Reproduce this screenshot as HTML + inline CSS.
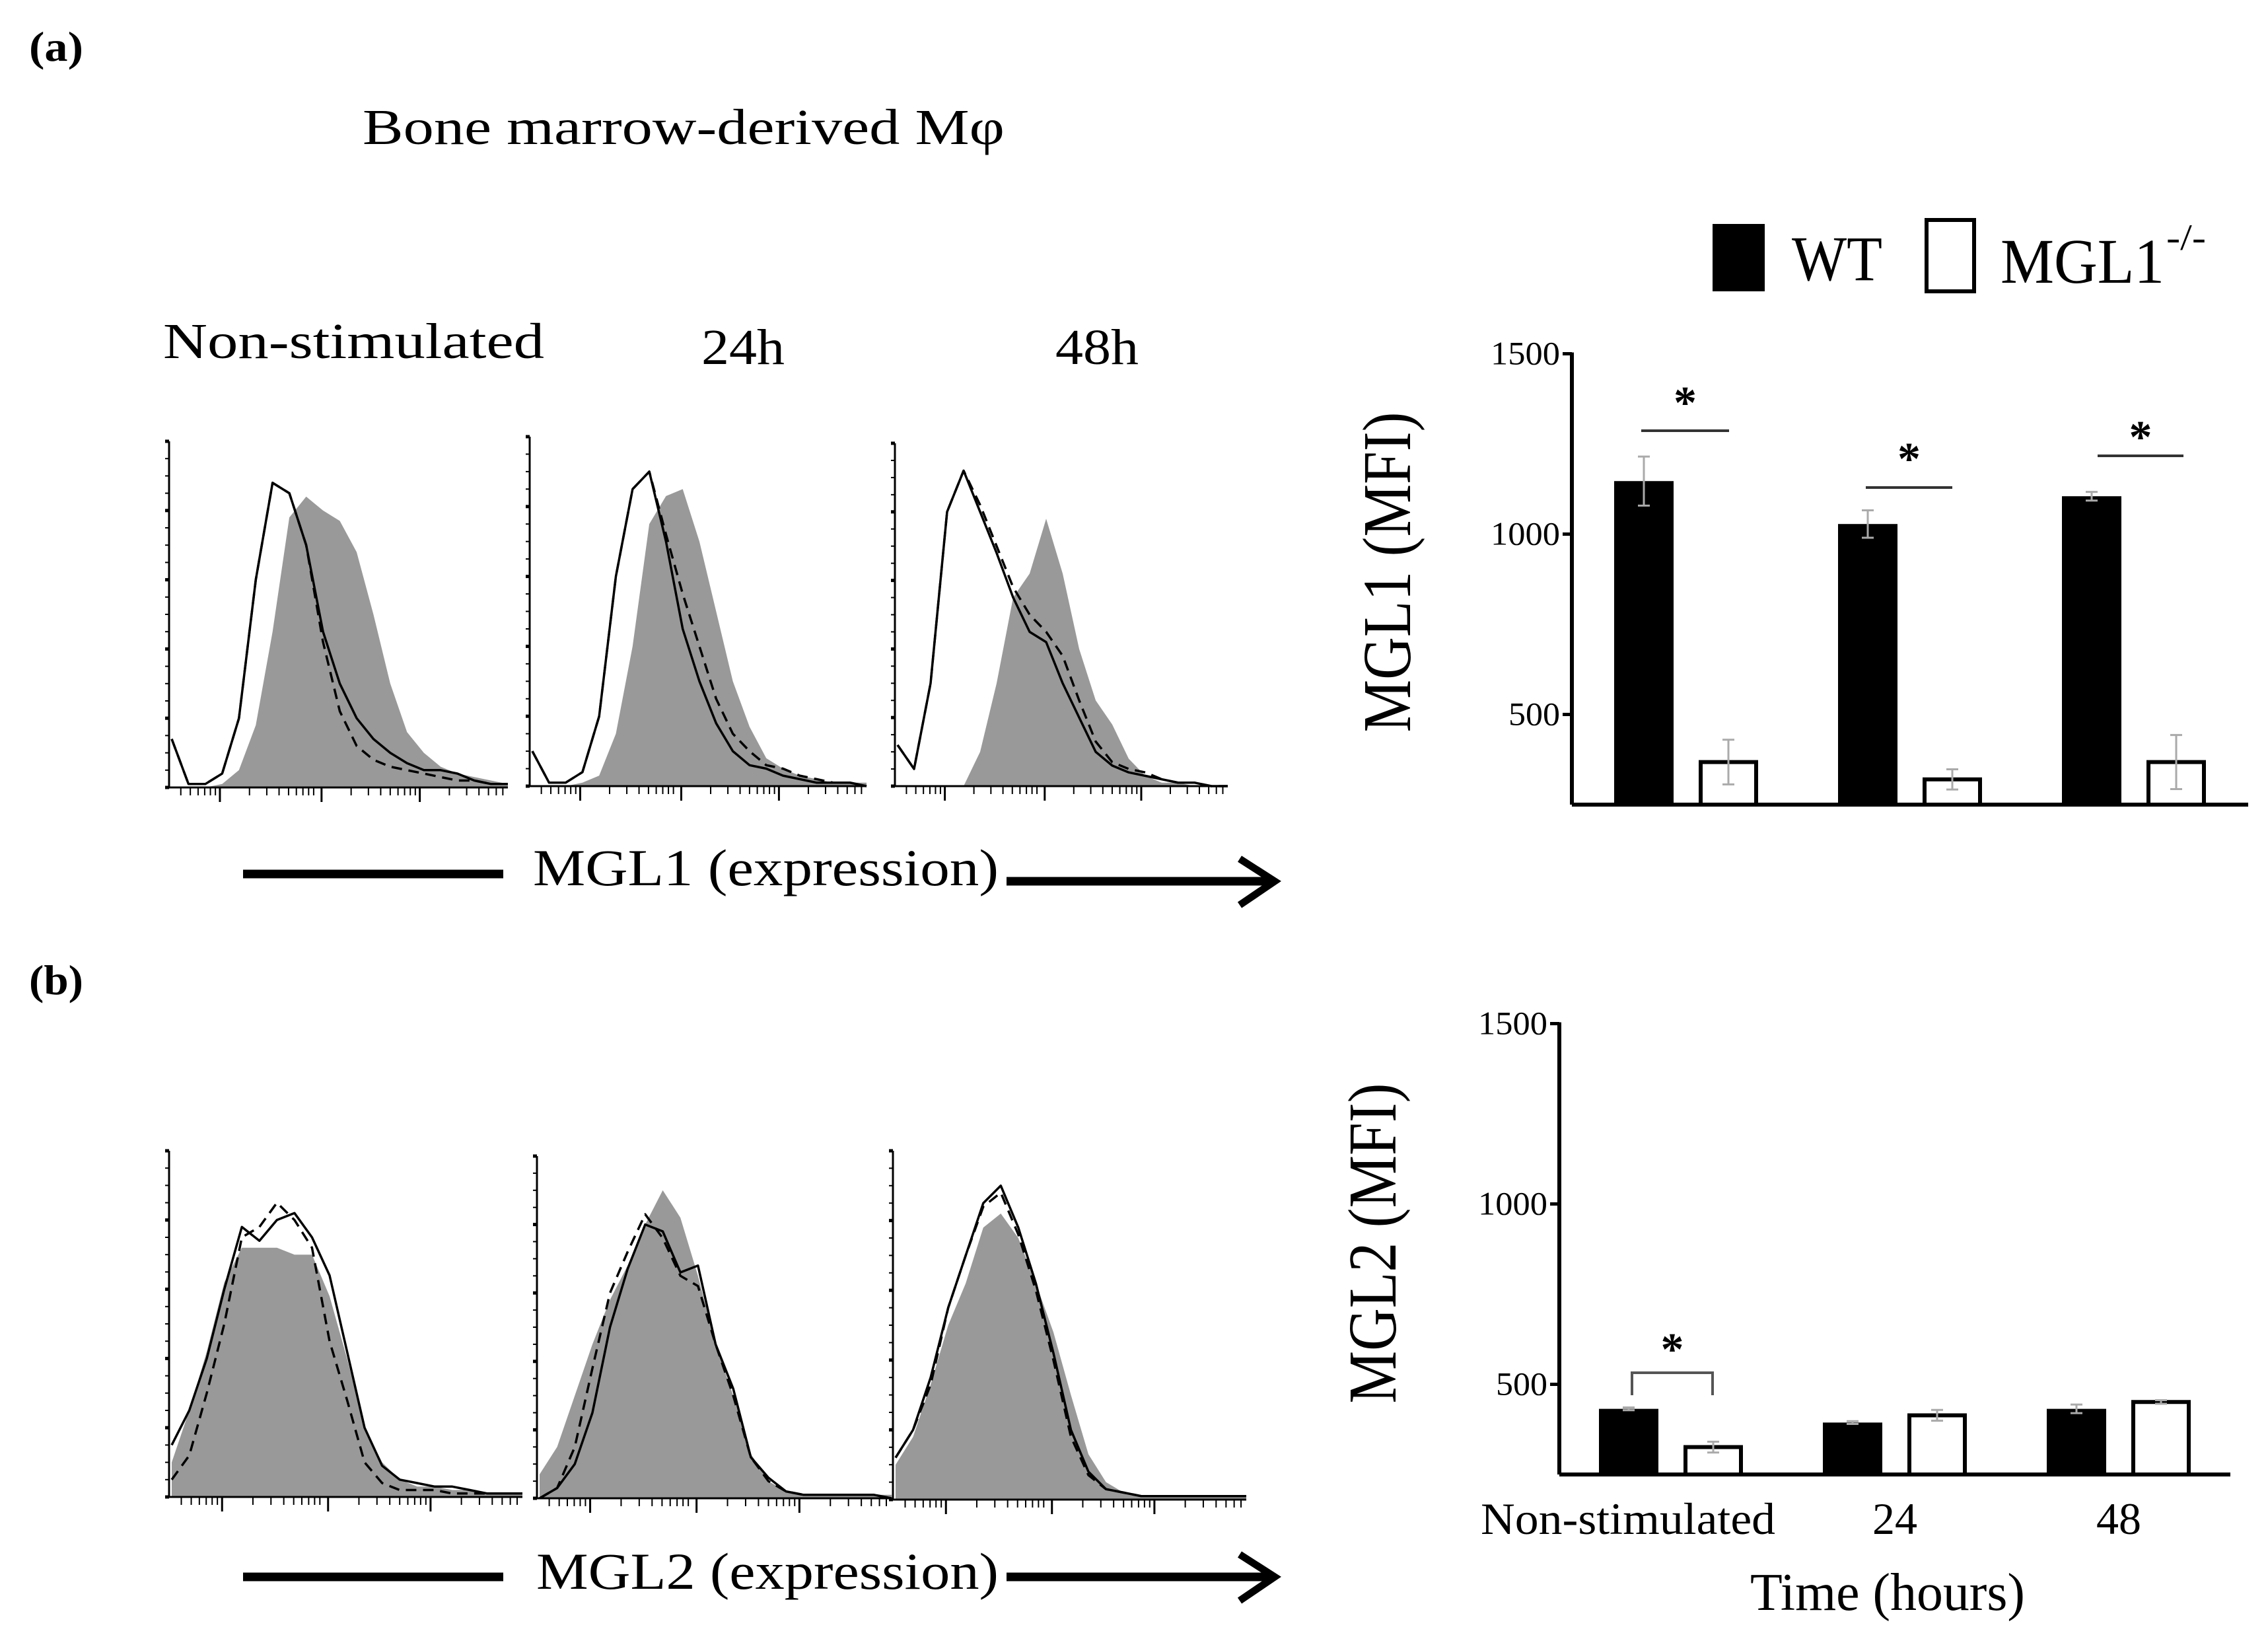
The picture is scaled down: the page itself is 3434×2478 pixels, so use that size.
<!DOCTYPE html>
<html><head><meta charset="utf-8"><style>
html,body{margin:0;padding:0;background:#fff}
svg{display:block}
text{font-family:"Liberation Serif",serif;fill:#000}
</style></head><body>
<svg id="fig" width="3434" height="2478" viewBox="0 0 3434 2478" xmlns="http://www.w3.org/2000/svg">
<text x="44" y="92" font-size="64" font-weight="bold" textLength="82" lengthAdjust="spacingAndGlyphs">(a)</text>
<text x="44" y="1505" font-size="64" font-weight="bold" textLength="82" lengthAdjust="spacingAndGlyphs">(b)</text>
<text x="549" y="218" font-size="76" textLength="972" lengthAdjust="spacingAndGlyphs">Bone marrow-derived Mφ</text>
<text x="247" y="542" font-size="76" textLength="577" lengthAdjust="spacingAndGlyphs">Non-stimulated</text>
<text x="1062" y="551" font-size="76" textLength="126" lengthAdjust="spacingAndGlyphs">24h</text>
<text x="1598" y="551" font-size="76" textLength="126" lengthAdjust="spacingAndGlyphs">48h</text>
<g>
<line x1="368" y1="1323" x2="762" y2="1323" stroke="#000" stroke-width="13"/>
<text x="807" y="1340" font-size="78" textLength="705" lengthAdjust="spacingAndGlyphs">MGL1 (expression)</text>
<line x1="1524" y1="1334" x2="1930" y2="1334" stroke="#000" stroke-width="13"/>
<polyline points="1877,1300 1930,1334 1877,1370" fill="none" stroke="#000" stroke-width="11"/>
</g>
<g>
<line x1="368" y1="2387" x2="762" y2="2387" stroke="#000" stroke-width="13"/>
<text x="812" y="2405" font-size="78" textLength="700" lengthAdjust="spacingAndGlyphs">MGL2 (expression)</text>
<line x1="1524" y1="2387" x2="1930" y2="2387" stroke="#000" stroke-width="13"/>
<polyline points="1877,2353 1930,2387 1877,2423" fill="none" stroke="#000" stroke-width="11"/>
</g>
<g>
<rect x="2593" y="339" width="79" height="102" fill="#000"/>
<text x="2713" y="424" font-size="96" textLength="137" lengthAdjust="spacingAndGlyphs">WT</text>
<rect x="2917" y="333" width="72" height="108" fill="none" stroke="#000" stroke-width="6"/>
<text x="3029" y="428" font-size="96" textLength="248" lengthAdjust="spacingAndGlyphs">MGL1</text>
<text x="3280" y="378" font-size="56" textLength="60" lengthAdjust="spacingAndGlyphs">-/-</text>
</g>
<g id="hists"></g>
<g id="bars"></g>
</svg>
<script>
const histX = [0,0.05,0.1,0.15,0.2,0.25,0.3,0.35,0.4,0.45,0.5,0.55,0.6,0.65,0.7,0.75,0.8,0.85,0.9,0.95,1];
const a1Gray  = [0,0,0,0.01,0.05,0.18,0.45,0.78,0.84,0.8,0.77,0.68,0.5,0.3,0.16,0.1,0.06,0.04,0.03,0.02,0.01];
const a1Solid = [0.14,0.01,0.01,0.04,0.2,0.6,0.88,0.85,0.7,0.45,0.3,0.2,0.14,0.1,0.07,0.05,0.05,0.04,0.02,0.01,0.01];
const a1Dash  = [0.14,0.01,0.01,0.04,0.2,0.6,0.88,0.85,0.7,0.42,0.22,0.12,0.08,0.06,0.05,0.04,0.03,0.02,0.02,0.01,0.01];
const a2Gray  = [0,0,0,0.01,0.03,0.15,0.4,0.75,0.83,0.85,0.7,0.5,0.3,0.17,0.08,0.05,0.03,0.02,0.01,0.01,0.01];
const a2Solid = [0.1,0.01,0.01,0.04,0.2,0.6,0.85,0.9,0.7,0.45,0.3,0.18,0.1,0.06,0.05,0.03,0.02,0.01,0.01,0.01,0];
const a2Dash  = [0.1,0.01,0.01,0.04,0.2,0.6,0.85,0.9,0.72,0.55,0.4,0.25,0.15,0.1,0.06,0.05,0.03,0.02,0.01,0.01,0];
const a3Gray  = [0,0,0,0,0,0.1,0.3,0.55,0.62,0.78,0.62,0.4,0.25,0.18,0.08,0.03,0.01,0.01,0,0,0];
const a3Solid = [0.12,0.05,0.3,0.8,0.92,0.8,0.68,0.55,0.45,0.42,0.3,0.2,0.1,0.06,0.04,0.03,0.02,0.01,0.01,0,0];
const a3Dash  = [0.12,0.05,0.3,0.8,0.92,0.82,0.7,0.58,0.5,0.45,0.38,0.25,0.13,0.07,0.05,0.04,0.02,0.01,0.01,0,0];
const b1Gray  = [0.1,0.25,0.42,0.62,0.72,0.72,0.72,0.7,0.7,0.58,0.4,0.2,0.1,0.05,0.03,0.03,0.02,0.02,0.01,0.01,0.01];
const b1Solid = [0.15,0.25,0.4,0.6,0.78,0.74,0.8,0.82,0.75,0.64,0.42,0.2,0.09,0.05,0.04,0.03,0.03,0.02,0.01,0.01,0.01];
const b1Dash  = [0.05,0.12,0.3,0.5,0.75,0.78,0.85,0.8,0.72,0.45,0.28,0.1,0.04,0.02,0.02,0.02,0.01,0.01,0.01,0.01,0.01];
const b2Gray  = [0.07,0.15,0.3,0.45,0.58,0.68,0.8,0.9,0.82,0.65,0.45,0.3,0.13,0.05,0.02,0.01,0.01,0.01,0.01,0.01,0.01];
const b2Solid = [0,0.03,0.1,0.25,0.5,0.67,0.8,0.78,0.66,0.68,0.45,0.32,0.12,0.06,0.02,0.01,0.01,0.01,0.01,0.01,0];
const b2Dash  = [0,0.03,0.15,0.38,0.6,0.72,0.83,0.76,0.65,0.62,0.45,0.3,0.12,0.05,0.02,0.01,0.01,0.01,0.01,0.01,0];
const b3Gray  = [0.1,0.18,0.33,0.5,0.62,0.78,0.82,0.75,0.62,0.48,0.3,0.13,0.05,0.02,0.01,0.01,0.01,0.01,0.01,0.01,0.01];
const b3Solid = [0.12,0.2,0.35,0.55,0.7,0.85,0.9,0.78,0.62,0.42,0.2,0.08,0.03,0.02,0.01,0.01,0.01,0.01,0.01,0.01,0.01];
const b3Dash  = [0.12,0.2,0.33,0.55,0.7,0.84,0.88,0.76,0.6,0.4,0.18,0.07,0.03,0.02,0.01,0.01,0.01,0.01,0.01,0.01,0.01];

const categories = ["Non-stimulated","24","48"];
const mgl1WT = [1147,1028,1105];
const mgl1WTErr = [68,38,12];
const mgl1KO = [368,320,368];
const mgl1KOErr = [62,28,75];
const mgl2WT = [432,394,432];
const mgl2WTErr = [4,4,12];
const mgl2KO = [326,414,451];
const mgl2KOErr = [15,15,5];
const yTicks = [500,1000,1500];

const NS="http://www.w3.org/2000/svg";
function mk(tag, attrs, parent){const e=document.createElementNS(NS,tag);for(const k in attrs)e.setAttribute(k,attrs[k]);parent.appendChild(e);return e;}

const hists=document.getElementById('hists');
const panels=[
 {x0:256,x1:769,y0:1192,yt:668,g:a1Gray,s:a1Solid,d:a1Dash,name:'hist-mgl1-nonstim'},
 {x0:802,x1:1312,y0:1190,yt:661,g:a2Gray,s:a2Solid,d:a2Dash,name:'hist-mgl1-24h'},
 {x0:1355,x1:1859,y0:1190,yt:671,g:a3Gray,s:a3Solid,d:a3Dash,name:'hist-mgl1-48h'},
 {x0:256,x1:791,y0:2266,yt:1742,g:b1Gray,s:b1Solid,d:b1Dash,name:'hist-mgl2-nonstim'},
 {x0:813,x1:1350,y0:2268,yt:1750,g:b2Gray,s:b2Solid,d:b2Dash,name:'hist-mgl2-24h'},
 {x0:1352,x1:1887,y0:2270,yt:1742,g:b3Gray,s:b3Solid,d:b3Dash,name:'hist-mgl2-48h'}
];
panels.forEach(p=>{
 const g=mk('g',{},hists);
 
 
 const sx=v=>p.x0+4+v*(p.x1-p.x0-4);
 const sy=v=>p.y0-v*(p.y0-p.yt);
 let d='M'+sx(0)+','+p.y0;
 histX.forEach((x,i)=>{d+=' L'+sx(x).toFixed(1)+','+sy(p.g[i]).toFixed(1);});
 d+=' L'+sx(1)+','+p.y0+' Z';
 const fill=mk('path',{d:d,fill:'#999999'},g);
 
 
 const line=(arr,dash)=>{let s='';histX.forEach((x,i)=>{s+=(i?' L':'M')+sx(x).toFixed(1)+','+sy(arr[i]).toFixed(1);});
   const e=mk('path',{d:s,fill:'none',stroke:'#000','stroke-width':3.5,'stroke-linejoin':'round'},g);
   if(dash)e.setAttribute('stroke-dasharray','16,10');return e;};
 const ls=line(p.s,false);
 
 
 const ld=line(p.d,true);
 
 
 mk('line',{x1:p.x0,y1:p.yt,x2:p.x0,y2:p.y0,stroke:'#000','stroke-width':3},g);
 mk('line',{x1:p.x0,y1:p.y0,x2:p.x1,y2:p.y0,stroke:'#000','stroke-width':3},g);
 for(let i=0;i<=20;i++){const y=p.y0-i*(p.y0-p.yt)/20;mk('line',{x1:p.x0-6,y1:y,x2:p.x0,y2:y,stroke:'#000','stroke-width':(i%4==0)?5:2},g);}
 const W=p.x1-p.x0;
 [0.15,0.45,0.74].forEach(m=>{
   mk('line',{x1:p.x0+m*W,y1:p.y0,x2:p.x0+m*W,y2:p.y0+22,stroke:'#000','stroke-width':3},g);
   for(let k=2;k<10;k++){const xm=p.x0+(m+Math.log10(k)*0.29)*W;if(xm<p.x1)mk('line',{x1:xm,y1:p.y0,x2:xm,y2:p.y0+12,stroke:'#000','stroke-width':2},g);}
 });
 for(let k=2;k<10;k++){const xm=p.x0+(0.15-0.29+Math.log10(k)*0.29)*W;if(xm>p.x0)mk('line',{x1:xm,y1:p.y0,x2:xm,y2:p.y0+12,stroke:'#000','stroke-width':2},g);}
});

const bars=document.getElementById('bars');
function barChart(cfg){
 const g=mk('g',{},bars);
 
 
 const ymin=250, pxPer=273/500;
 const y=v=>cfg.base-(v-ymin)*pxPer;
 mk('line',{x1:cfg.ax,y1:y(1500)-2,x2:cfg.ax,y2:cfg.base,stroke:'#000','stroke-width':6},g);
 mk('line',{x1:cfg.ax,y1:cfg.base,x2:cfg.xend,y2:cfg.base,stroke:'#000','stroke-width':6},g);
 yTicks.forEach(t=>{
   mk('line',{x1:cfg.ax-14,y1:y(t),x2:cfg.ax,y2:y(t),stroke:'#000','stroke-width':5},g);
   const tl=mk('text',{x:cfg.ax-18,y:y(t)+16,'font-size':50,'text-anchor':'end',textLength:t>=1000?105:78,lengthAdjust:'spacingAndGlyphs'},g);
   tl.textContent=t;
   
   
 });
 const yl=mk('text',{x:0,y:0,'font-size':104,'text-anchor':'middle',textLength:cfg.ylen,lengthAdjust:'spacingAndGlyphs',transform:'translate('+cfg.ylx+','+cfg.yly+') rotate(-90)'},g);
 yl.textContent=cfg.ylabel;
 
 
 categories.forEach((c,i)=>{
   const gx=cfg.first+i*cfg.step;
   const bw=90;
   const hW=cfg.base-y(cfg.wt[i]);
   const r1=mk('rect',{x:gx,y:y(cfg.wt[i]),width:bw,height:hW,fill:'#000'},g);
   
   
   const kx=gx+128;
   const r2=mk('rect',{x:kx+3,y:y(cfg.ko[i]),width:bw-6,height:cfg.base-y(cfg.ko[i]),fill:'#fff',stroke:'#000','stroke-width':6},g);
   
   
   [[gx,cfg.wt[i],cfg.wtE[i]],[kx,cfg.ko[i],cfg.koE[i]]].forEach(([bx,v,e])=>{
     const cx=bx+bw/2;
     mk('line',{x1:cx,y1:y(v+e),x2:cx,y2:y(v-e),stroke:'#aaa','stroke-width':3},g);
     mk('line',{x1:cx-9,y1:y(v+e),x2:cx+9,y2:y(v+e),stroke:'#aaa','stroke-width':3},g);
     mk('line',{x1:cx-9,y1:y(v-e),x2:cx+9,y2:y(v-e),stroke:'#aaa','stroke-width':3},g);
   });
   if(cfg.cat){
     const t=mk('text',{x:i==0?2465:gx+109,y:cfg.base+90,'font-size':68,'text-anchor':'middle'},g);
     if(i==0){t.setAttribute('textLength',446);t.setAttribute('lengthAdjust','spacingAndGlyphs');}
     t.textContent=c;
     
     
   }
 });
 return {g,y};
}
const c1=barChart({name:'mgl1-bar-chart',ax:2380,base:1218,xend:3404,first:2444,step:339,wt:mgl1WT,wtE:mgl1WTErr,ko:mgl1KO,koE:mgl1KOErr,ylabel:'MGL1 (MFI)',ylx:2135,yly:866,ylen:485,cat:false});
[[2485,2618,652,603],[2825,2956,738,688],[3176,3306,690,655]].forEach((s,i)=>{
 mk('line',{x1:s[0],y1:s[2],x2:s[1],y2:s[2],stroke:'#333','stroke-width':4},c1.g);
 const t=mk('text',{x:(s[0]+s[1])/2,y:s[3]+30,'font-size':70,'text-anchor':'middle','font-weight':'bold'},c1.g);
 t.textContent='*';
 
 
});
const c2=barChart({name:'mgl2-bar-chart',ax:2361,base:2232,xend:3377,first:2421,step:339,wt:mgl2WT,wtE:mgl2WTErr,ko:mgl2KO,koE:mgl2KOErr,ylabel:'MGL2 (MFI)',ylx:2113,yly:1882,ylen:485,cat:true});
mk('polyline',{points:'2471,2112 2471,2078 2593,2078 2593,2112',fill:'none',stroke:'#555','stroke-width':4},c2.g);
const st=mk('text',{x:2532,y:2066,'font-size':70,'text-anchor':'middle','font-weight':'bold'},c2.g);
st.textContent='*';


const xt=mk('text',{x:2650,y:2437,'font-size':80,textLength:416,lengthAdjust:'spacingAndGlyphs'},c2.g);
xt.textContent='Time (hours)';


</script>
</body></html>
